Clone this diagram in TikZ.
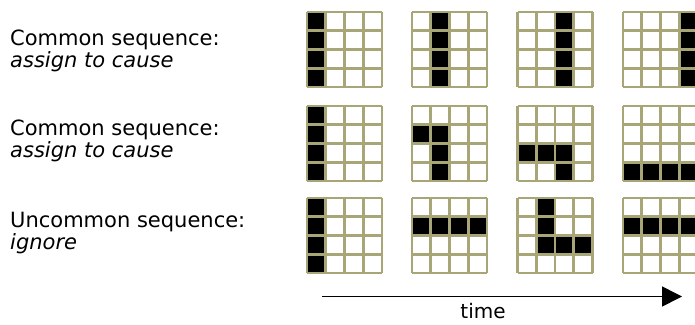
\documentclass[tikz,border=0pt]{standalone}
\usepackage{fontspec}
\setmainfont{DejaVu Sans}
\usetikzlibrary{arrows.meta}
\definecolor{gridc}{RGB}{168,166,118}
\tikzset{
  lbl/.style={anchor=base west, inner sep=0pt, font=\fontsize{21}{25}\selectfont},
  gline/.style={draw=gridc, line width=2.9pt},
  cellfill/.style={fill=black},
}
% \pgridx{x}{y}{list of col/row}
\newcommand\pgridx[3]{%
  \foreach \c/\r in {#3}{\fill[cellfill] (#1+\c*18.75,#2+\r*18.75) rectangle ++(18.75,18.75);}
  \foreach \i in {0,...,4}{%
    \draw[gline] (#1+\i*18.75,#2) -- (#1+\i*18.75,#2+75);
    \draw[gline] (#1,#2+\i*18.75) -- (#1+75,#2+\i*18.75);}
}
\begin{document}
\begin{tikzpicture}[x=1pt,y=-1pt]
\clip (0,0) rectangle (695,324);
\useasboundingbox (0,0) rectangle (695,324);
\fill[white] (0,0) rectangle (695,324);
% labels
\node[lbl] (l1a) at (10,45) {Common sequence:};
\node[lbl] (l1b) at (10,67) {\itshape assign to cause};
\node[lbl] (l2a) at (10,135) {Common sequence:};
\node[lbl] (l2b) at (10,157) {\itshape assign to cause};
\node[lbl] (l3a) at (10,227) {Uncommon sequence:};
\node[lbl] (l3b) at (10,249) {\itshape ignore};
% row 1
\pgridx{307}{12}{0/0,0/1,0/2,0/3}
\pgridx{412}{12}{1/0,1/1,1/2,1/3}
\pgridx{517.5}{12}{2/0,2/1,2/2,2/3}
\pgridx{623}{12}{3/0,3/1,3/2,3/3}
% row 2
\pgridx{307}{106}{0/0,0/1,0/2,0/3}
\pgridx{412}{106}{0/1,1/1,1/2,1/3}
\pgridx{517.5}{106}{0/2,1/2,2/2,2/3}
\pgridx{623}{106}{0/3,1/3,2/3,3/3}
% row 3
\pgridx{307}{198}{0/0,0/1,0/2,0/3}
\pgridx{412}{198}{0/1,1/1,2/1,3/1}
\pgridx{517.5}{198}{1/0,1/1,1/2,2/2,3/2}
\pgridx{623}{198}{0/1,1/1,2/1,3/1}
% time arrow
\coordinate (ts) at (322,296.5);
\coordinate (te) at (682,296.5);
\draw[line width=1.6pt, -{Triangle[length=20pt,width=20pt]}] (ts) -- (te);
\node[anchor=base, inner sep=0pt, font=\fontsize{20}{24}\selectfont] (tm) at (483,318) {time};
\end{tikzpicture}
\end{document}
